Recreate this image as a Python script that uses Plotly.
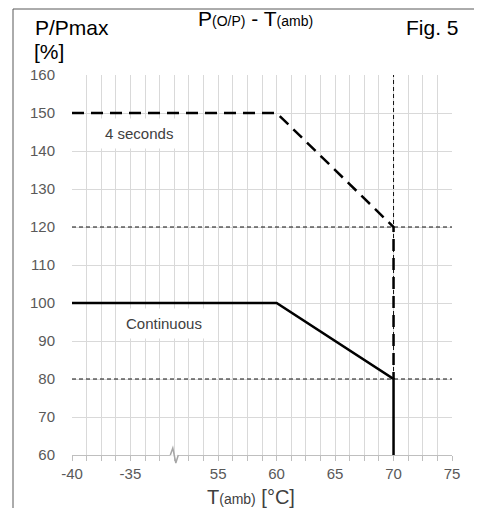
import plotly.graph_objects as go

# ---- data ----
temps_continuous = [-40, 60, 70, 70]
power_continuous = [100, 100, 80, 60]
temps_4s = [-40, 60, 70, 70]
power_4s = [150, 150, 120, 80]
ref_temp = 70
ref_levels = [120, 80]
x_tick_labels = [-40, -35, 55, 60, 65, 70, 75]
y_tick_labels = [60, 70, 80, 90, 100, 110, 120, 130, 140, 150, 160]

# broken x axis: -40..-31.25 | 51.25..75
BREAK_LO, BREAK_HI = -31.25, 51.25
X_MIN, X_MAX = -40, 75


def to_u(x):
    if x <= BREAK_LO:
        return x - X_MIN
    return x - BREAK_HI + (BREAK_LO - X_MIN)


U_MAX = to_u(X_MAX)
U_BREAK = to_u(BREAK_LO)

OFF = 8  # default page body margin
W, H = 482 - OFF, 508 - OFF
L, R, T, B = 72 - OFF, 30, 75 - OFF, 53
PW, PH = W - L - R, H - T - B


def px(xp):  # page pixel -> paper
    return (xp - OFF - L) / PW


def py(yp):
    return (H - B - (yp - OFF)) / PH


FONT = "Arial, Liberation Sans, sans-serif"
fig = go.Figure()

# thin dashed reference lines
for lvl in ref_levels:
    fig.add_trace(go.Scatter(x=[0, U_MAX], y=[lvl, lvl], mode="lines",
                             line=dict(color="#111111", width=1, dash="4px,3px"),
                             hoverinfo="skip", showlegend=False))
fig.add_trace(go.Scatter(x=[to_u(ref_temp)] * 2, y=[60, 160], mode="lines",
                         line=dict(color="#111111", width=1, dash="4px,3px"),
                         hoverinfo="skip", showlegend=False))

# 4 seconds (dashed)
fig.add_trace(go.Scatter(x=[to_u(t) for t in temps_4s], y=power_4s, mode="lines",
                         line=dict(color="#000000", width=2.5, dash="12px,7px"),
                         showlegend=False, cliponaxis=False))
# continuous (solid)
fig.add_trace(go.Scatter(x=[to_u(t) for t in temps_continuous], y=power_continuous,
                         mode="lines", line=dict(color="#000000", width=2.5),
                         showlegend=False, cliponaxis=False))

fig.update_xaxes(
    range=[0, U_MAX],
    tickvals=[to_u(v) for v in x_tick_labels],
    ticktext=[str(v) for v in x_tick_labels],
    ticks="outside", ticklen=5, tickcolor="#bfbfbf",
    showgrid=True, gridcolor="#d9d9d9", gridwidth=1,
    minor=dict(tick0=0, dtick=1.25, showgrid=True, gridcolor="#d9d9d9",
               ticks="outside", ticklen=5, tickcolor="#bfbfbf"),
    showline=True, linecolor="#bfbfbf", linewidth=1,
    zeroline=False,
    tickfont=dict(family=FONT, size=15, color="#595959"),
)
fig.update_yaxes(
    range=[60, 160],
    tickvals=y_tick_labels,
    ticktext=[str(v) for v in y_tick_labels],
    showgrid=False, zeroline=False, showline=False, ticks="",
    minor=dict(tickvals=y_tick_labels[1:-1], showgrid=True, gridcolor="#d9d9d9"),
    ticklabelstandoff=16,
    tickfont=dict(family=FONT, size=15, color="#595959"),
)

shapes = [
    # outer frame
    dict(type="rect", xref="paper", yref="paper",
         x0=px(13), x1=px(480), y0=py(520), y1=py(9),
         line=dict(color="#595959", width=1), fillcolor="rgba(0,0,0,0)", layer="below"),
]
# axis break zig-zag
bx = U_BREAK / U_MAX
d = 1 / PW
dy = 1 / PH
path = (f"M {bx - 4*d},0 L {bx - 1.5*d},{7*dy} "
        f"L {bx + 1.5*d},{-8*dy} L {bx + 4*d},0")
shapes.append(dict(type="rect", xref="paper", yref="paper",
                   x0=bx - 4 * d, x1=bx + 4 * d, y0=-0.8 * dy, y1=0.8 * dy,
                   line=dict(width=0), fillcolor="white", layer="above"))
shapes.append(dict(type="path", xref="paper", yref="paper", path=path,
                   line=dict(color="#a6a6a6", width=1.5), layer="above"))

sub = "<span style='font-size:14px'>{}</span>"
annotations = [
    dict(text="P" + sub.format("(O/P)") + " - T" + sub.format("(amb)"),
         x=px(255), y=py(19), xref="paper", yref="paper", showarrow=False,
         xanchor="center", yanchor="middle", font=dict(family=FONT, size=21, color="#000")),
    dict(text="P/Pmax", x=px(33), y=py(27), xref="paper", yref="paper", showarrow=False,
         xanchor="left", yanchor="middle", font=dict(family=FONT, size=21, color="#000")),
    dict(text="[%]", x=px(32), y=py(52), xref="paper", yref="paper", showarrow=False,
         xanchor="left", yanchor="middle", font=dict(family=FONT, size=21, color="#000")),
    dict(text="Fig. 5", x=px(461), y=py(27), xref="paper", yref="paper", showarrow=False,
         xanchor="right", yanchor="middle", font=dict(family=FONT, size=21, color="#000")),
    dict(text="T" + sub.format("(amb)") + " [°C]", x=px(251), y=py(497), xref="paper",
         yref="paper", showarrow=False, xanchor="center", yanchor="middle",
         font=dict(family=FONT, size=20, color="#404040")),
    dict(text="4 seconds", x=to_u(-34.3), y=144.7, xref="x", yref="y", showarrow=False,
         xanchor="center", yanchor="middle", bgcolor="white", borderpad=6,
         font=dict(family=FONT, size=15, color="#404040")),
    dict(text="Continuous", x=to_u(-32.1), y=94.5, xref="x", yref="y", showarrow=False,
         xanchor="center", yanchor="middle", bgcolor="white", borderpad=6,
         font=dict(family=FONT, size=15, color="#404040")),
]

fig.update_layout(
    width=W, height=H,
    margin=dict(l=L, r=R, t=T, b=B, pad=0),
    paper_bgcolor="white", plot_bgcolor="white",
    shapes=shapes, annotations=annotations,
    showlegend=False,
)

fig.write_html("out.html")
